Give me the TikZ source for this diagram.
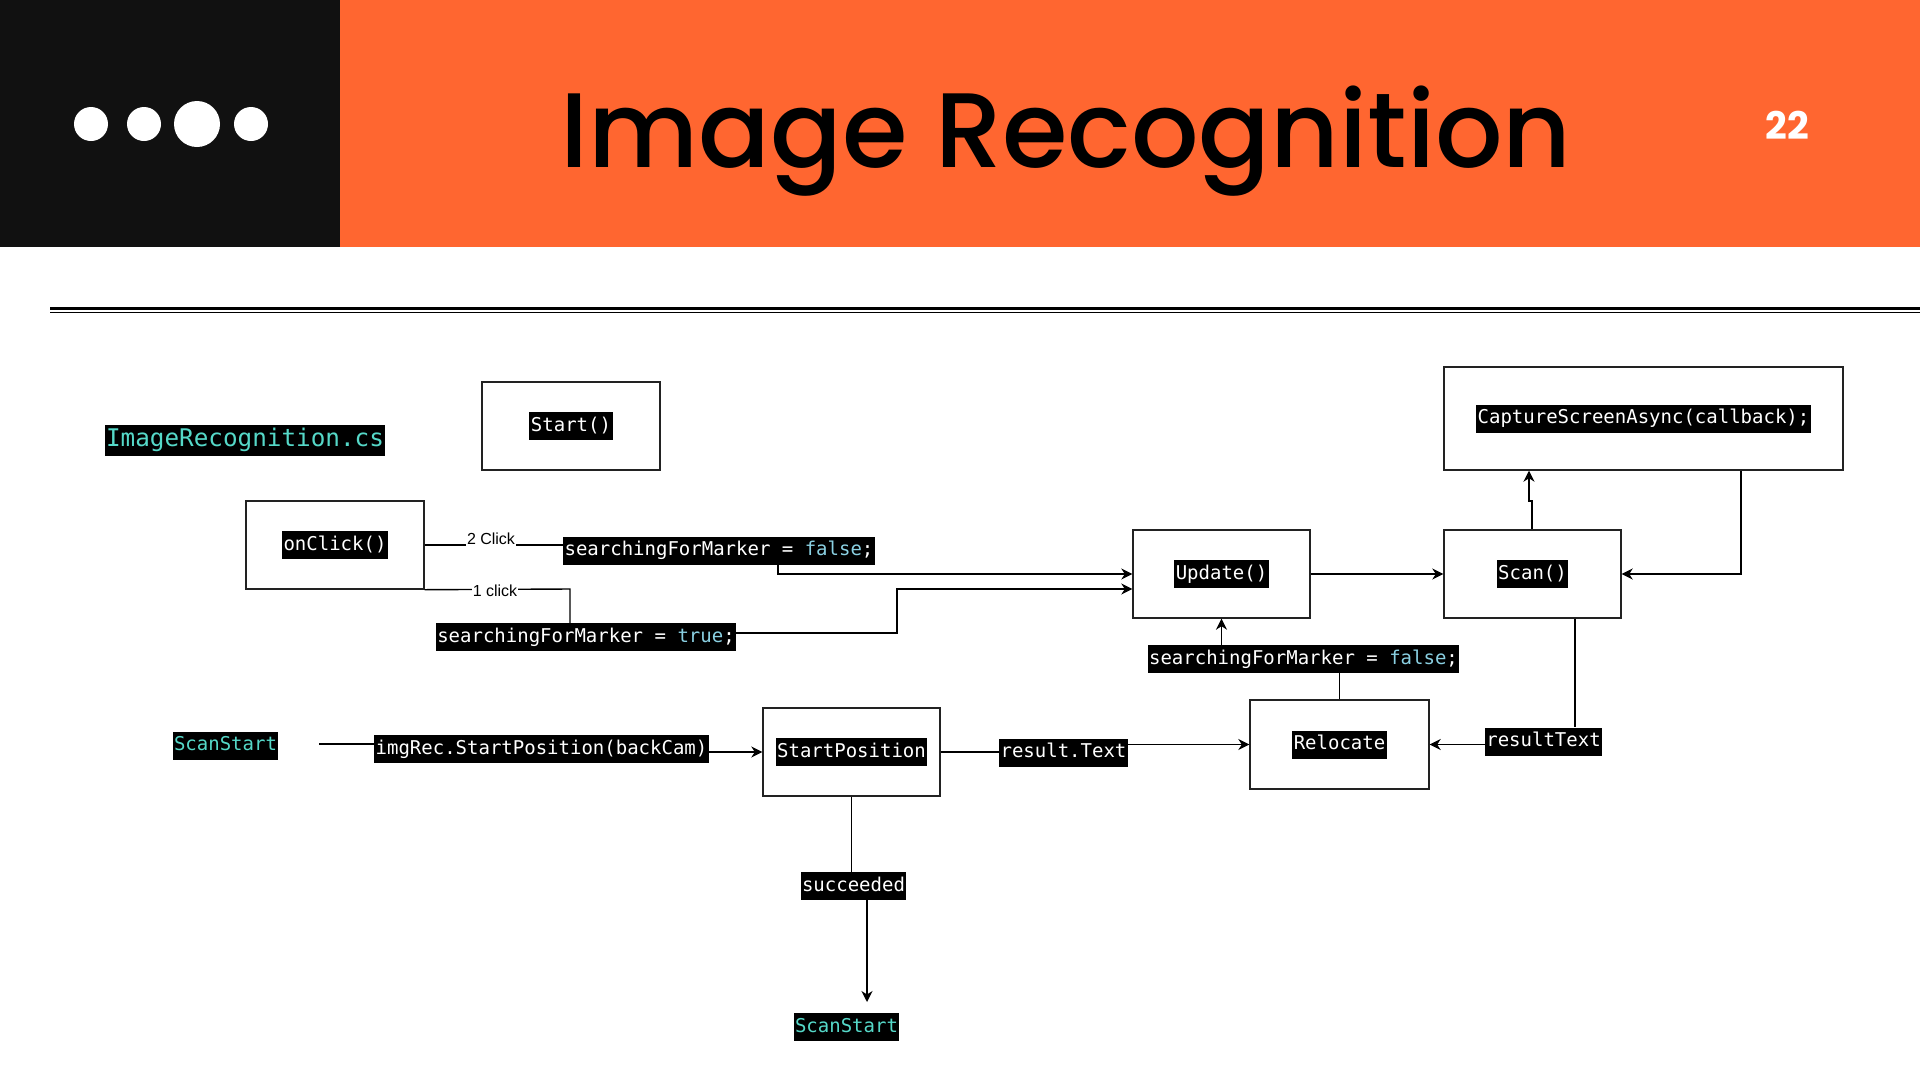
\documentclass[tikz,border=0pt]{standalone}
\usepackage{fontspec}
\usetikzlibrary{arrows.meta,calc}
\newfontfamily\codefont{DejaVu Sans Mono}
\newfontfamily\titlefont{Poppins Medium}
\newfontfamily\popfont{Poppins}
\newfontfamily\smallsans{Liberation Sans}
\definecolor{hdrorange}{HTML}{FF6630}
\definecolor{hdrblack}{HTML}{111111}
\definecolor{kwblue}{HTML}{8AD0E2}
\definecolor{typecyan}{HTML}{55D8C8}
\definecolor{boxline}{HTML}{222222}
\newcommand\kw[1]{\textcolor{kwblue}{#1}}
\tikzset{
  box/.style={draw=boxline, line width=1.4pt, minimum width=177pt, minimum height=88pt, inner sep=0pt},
  lbl/.style={fill=black, text=white, font=\codefont\fontsize{19}{19}\selectfont, inner xsep=1.5pt, inner ysep=5pt, text height=14pt, text depth=4pt},
  tlbl/.style={lbl, text=typecyan},
  clk/.style={fill=white, font=\smallsans\fontsize{16}{16}\selectfont, inner sep=1pt},
  con/.style={draw=black, line width=1.4pt},
  arr/.style={con, -{Stealth[length=11pt,width=11pt,inset=3.5pt]}},
}
\begin{document}
\begin{tikzpicture}[x=1pt,y=-1pt]
\useasboundingbox (0,0) rectangle (1920,1080);
\fill[white] (0,0) rectangle (1920,1080);
% header
\fill[hdrorange] (340,0) rectangle (1920,247);
\fill[hdrblack] (0,0) rectangle (340,247);
\fill[white] (91,124) circle (17) (144,124) circle (17) (197,124) circle (23) (251,124) circle (17);
\node[anchor=base, inner sep=0pt, font=\titlefont\fontsize{106}{106}\selectfont] (title) at (1066,167) {Image Recognition};
\node[anchor=base, inner sep=0pt, text=white, font=\popfont\bfseries\fontsize{38}{38}\selectfont] (pnum) at (1787,139) {22};
\draw[line width=2.2pt] (50,308.5) -- (1920,308.5);
\draw[line width=1.5pt] (50,312.5) -- (1920,312.5);

% file name
\node[tlbl, font=\codefont\fontsize{24.3}{24.3}\selectfont, text height=18pt, text depth=6pt, inner ysep=3.5pt] (file) at (245,440.5) {ImageRecognition.cs};

% boxes
\node[box, minimum width=178pt] (start) at (571,426) {};
\node[box, minimum width=178pt] (onclick) at (335,545) {};
\node[box, minimum width=399pt, minimum height=103pt] (capture) at (1643.5,418.5) {};
\node[box] (update) at (1221.5,574) {};
\node[box] (scan) at (1532.5,574) {};
\node[box, minimum width=179pt, minimum height=89pt] (reloc) at (1339.5,744.5) {};
\node[box] (startpos) at (851.5,752) {};

% box texts
\node[lbl] (tStart) at (start) {Start()};
\node[lbl] (tOnclick) at (onclick) {onClick()};
\node[lbl] (tCapture) at (capture) {CaptureScreenAsync(callback);};
\node[lbl] (tUpdate) at (update) {Update()};
\node[lbl] (tScan) at (scan) {Scan()};
\node[lbl] (tReloc) at (reloc) {Relocate};
\node[lbl] (tStartpos) at (startpos) {StartPosition};

% connector labels
\node[lbl] (lblF1) at (719,550.5) {searchingForMarker = \kw{false};};
\node[lbl] (lblT) at (586,637) {searchingForMarker = \kw{true};};
\node[lbl] (lblF2) at (1303.5,659) {searchingForMarker = \kw{false};};
\node[tlbl] (lblSS1) at (225.5,745.5) {ScanStart};
\node[lbl] (lblImgRec) at (541.5,749) {imgRec.StartPosition(backCam)};
\node[lbl] (lblRes) at (1063.5,752.5) {result.Text};
\node[lbl] (lblRT) at (1543.5,741.5) {resultText};
\node[lbl] (lblSucc) at (853.5,886) {succeeded};
\node[tlbl] (lblSS2) at (846.5,1027) {ScanStart};

% coordinates
\coordinate (c1) at (570,589);
\coordinate (cF1) at (778,574);
\coordinate (cT) at (897,589);
\coordinate (cTo) at (0,633);
\coordinate (j) at (1529,501);
\coordinate (cb) at (1741,574);
\coordinate (sr) at (1575,618);
\coordinate (s0) at (319,744);
\coordinate (sd) at (867,900);
\coordinate (sdEnd) at (867,1002);

% onClick connectors
\draw[con] (onclick.east) -- (lblF1.west |- onclick.east);
\node[clk] (c2lbl) at (491,539) {2 Click};
\draw[con] (onclick.south east) -- (c1) -- (c1 |- lblT.north);
\node[clk] (c1lbl) at (495,590.5) {1 click};

% into update
\draw[arr] (cF1 |- lblF1.south) -- (cF1) -- (cF1 -| update.west);
\draw[arr] (lblT.east |- cTo) -- (cT |- cTo) -- (cT) -- (cT -| update.west);
\draw[arr] (update.east) -- (scan.west);

% scan / capture
\draw[arr] (scan.north -| 1532,0) |- (j) -- (j |- capture.south);
\draw[arr] (cb |- capture.south) -- (cb) -- (scan.east);

% scan -> resultText -> relocate
\draw[con] (sr |- scan.south) -- (sr |- lblRT.north);
\draw[arr] (lblRT.west |- reloc.east) -- (reloc.east);

% relocate -> false -> update
\draw[con] (reloc.north) -- (reloc.north |- lblF2.south);
\draw[arr] (update.south |- lblF2.north) -- (update.south);

% ScanStart -> startpos
\draw[con] (s0) -- (s0 -| lblImgRec.west);
\draw[arr] (lblImgRec.east |- startpos.west) -- (startpos.west);

% startpos -> result.Text -> relocate
\draw[con] (startpos.east) -- (startpos.east -| lblRes.west);
\draw[arr] (lblRes.east |- reloc.west) -- (reloc.west);

% startpos -> succeeded -> ScanStart
\draw[con] (startpos.south) -- (startpos.south |- lblSucc.north);
\draw[arr] (sd |- lblSucc.south) -- (sdEnd);
\end{tikzpicture}
\end{document}
